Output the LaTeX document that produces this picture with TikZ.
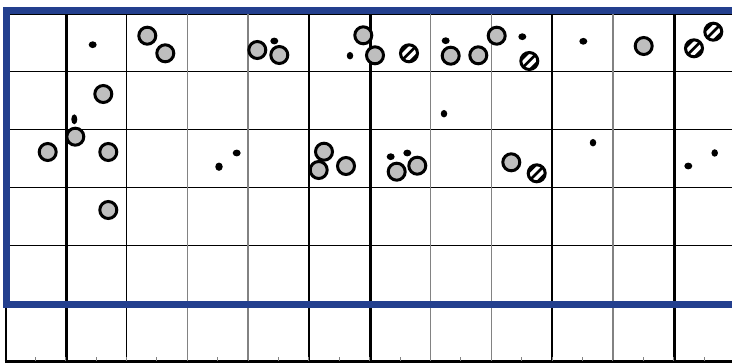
\documentclass[tikz,border=0pt]{standalone}
\usetikzlibrary{shapes.geometric}
\definecolor{frameblue}{RGB}{35,63,142}
\definecolor{ballgray}{RGB}{190,190,190}
\definecolor{gridgray}{RGB}{130,130,130}
\begin{document}
\begin{tikzpicture}[x=1pt,y=-1pt,
  ball/.style={circle, draw=black, line width=3pt, fill=ballgray, minimum size=17pt, inner sep=0pt},
  hball/.style={circle, draw=black, line width=3pt, fill=white, minimum size=17pt, inner sep=0pt,
    path picture={
      \foreach \o in {-4.7,0,4.7}{
        \draw[line width=2.7pt] ([xshift=\o pt-12pt, yshift=-\o pt-12pt]path picture bounding box.center) -- ++(24pt,24pt);
      }}},
  blackdot/.style={ellipse, fill=black, minimum width=8pt, minimum height=6.8pt, inner sep=0pt},
  vdot/.style={ellipse, fill=black, minimum width=6pt, minimum height=10pt, inner sep=0pt},
  thickline/.style={black, line width=2.2pt},
  thinline/.style={black, line width=1.3pt},
  grayline/.style={gridgray, line width=1.6pt},
  frame/.style={frameblue, line width=7pt}
]
\useasboundingbox (0,0) rectangle (732,363);
\fill[white] (0,0) rectangle (732,363);
% horizontal grid lines
\foreach \j in {0,...,5}{
  \draw[thinline] (4.9,14+57.8*\j) -- (736,14+57.8*\j);
}
% vertical grid lines
\foreach \i in {2,5,9}{
  \draw[thinline] (4.9+60.8*\i,14) -- (4.9+60.8*\i,361);
}
\foreach \i in {3,4,7,8,10}{
  \draw[grayline] (4.9+60.8*\i,14) -- (4.9+60.8*\i,361);
}
\foreach \i in {0,1,6,11}{
  \draw[thickline] (5.6+60.8*\i,14) -- (5.6+60.8*\i,361);
}
% bottom line with ticks
\draw[black, line width=2.6pt] (4.5,361.8) -- (736,361.8);
\foreach \k in {1,...,24}{
  \draw[gridgray, line width=0.9pt] (4.9+30.4*\k,357.5) -- (4.9+30.4*\k,361);
}
% blue frame
\draw[frame] (6.3,10.5) rectangle (735,304.5);
% gray balls
\node[ball] (b1) at (147.3,35.7) {};
\node[ball] (b2) at (165.3,53.3) {};
\node[ball] (b3) at (103.3,94) {};
\node[ball] (b4) at (75.3,136.7) {};
\node[ball] (b5) at (47.7,152) {};
\node[ball] (b6) at (108.3,152) {};
\node[ball] (b7) at (108.3,210) {};
\node[ball] (b8) at (257.3,50) {};
\node[ball] (b9) at (279.3,55) {};
\node[ball] (b10) at (363.3,35.3) {};
\node[ball] (b11) at (375,55.3) {};
\node[ball] (b12) at (450.7,55.7) {};
\node[ball] (b13) at (478.3,55.3) {};
\node[ball] (b14) at (496.7,35.7) {};
\node[ball] (b15) at (324,151.7) {};
\node[ball] (b16) at (318.7,170) {};
\node[ball] (b17) at (346,166) {};
\node[ball] (b18) at (396.7,171.7) {};
\node[ball] (b19) at (417.3,165.7) {};
\node[ball] (b20) at (643.7,46) {};
\node[ball] (b21) at (511.3,162.3) {};
% hatched balls
\node[hball] (h1) at (409,53.3) {};
\node[hball] (h2) at (529.3,61) {};
\node[hball] (h3) at (694,48.3) {};
\node[hball] (h4) at (713.3,31.7) {};
\node[hball] (h5) at (536.7,173.3) {};
% dots
\node[blackdot] (d1) at (92.7,44.7) {};
\node[vdot] (d2) at (74.3,119.3) {};
\node[blackdot, minimum width=7.5pt, minimum height=8.3pt] (d3) at (219,166.7) {};
\node[blackdot] (d4) at (236.7,153) {};
\node[blackdot] (d5) at (274.3,41) {};
\node[blackdot, minimum width=6.5pt, minimum height=7.5pt] (d6) at (350,55.7) {};
\node[blackdot] (d7) at (445.7,40.7) {};
\node[blackdot, minimum width=6.5pt, minimum height=7.5pt] (d8) at (444,113.7) {};
\node[blackdot] (d9) at (390.7,156.7) {};
\node[blackdot] (d10) at (407.3,153) {};
\node[blackdot] (d11) at (522.3,36.7) {};
\node[blackdot] (d12) at (583.3,41.3) {};
\node[blackdot, minimum width=6.5pt, minimum height=7.5pt] (d13) at (593,142.7) {};
\node[blackdot] (d14) at (688.3,166) {};
\node[blackdot, minimum width=6.5pt, minimum height=7.5pt] (d15) at (714.7,153) {};
\end{tikzpicture}
\end{document}
